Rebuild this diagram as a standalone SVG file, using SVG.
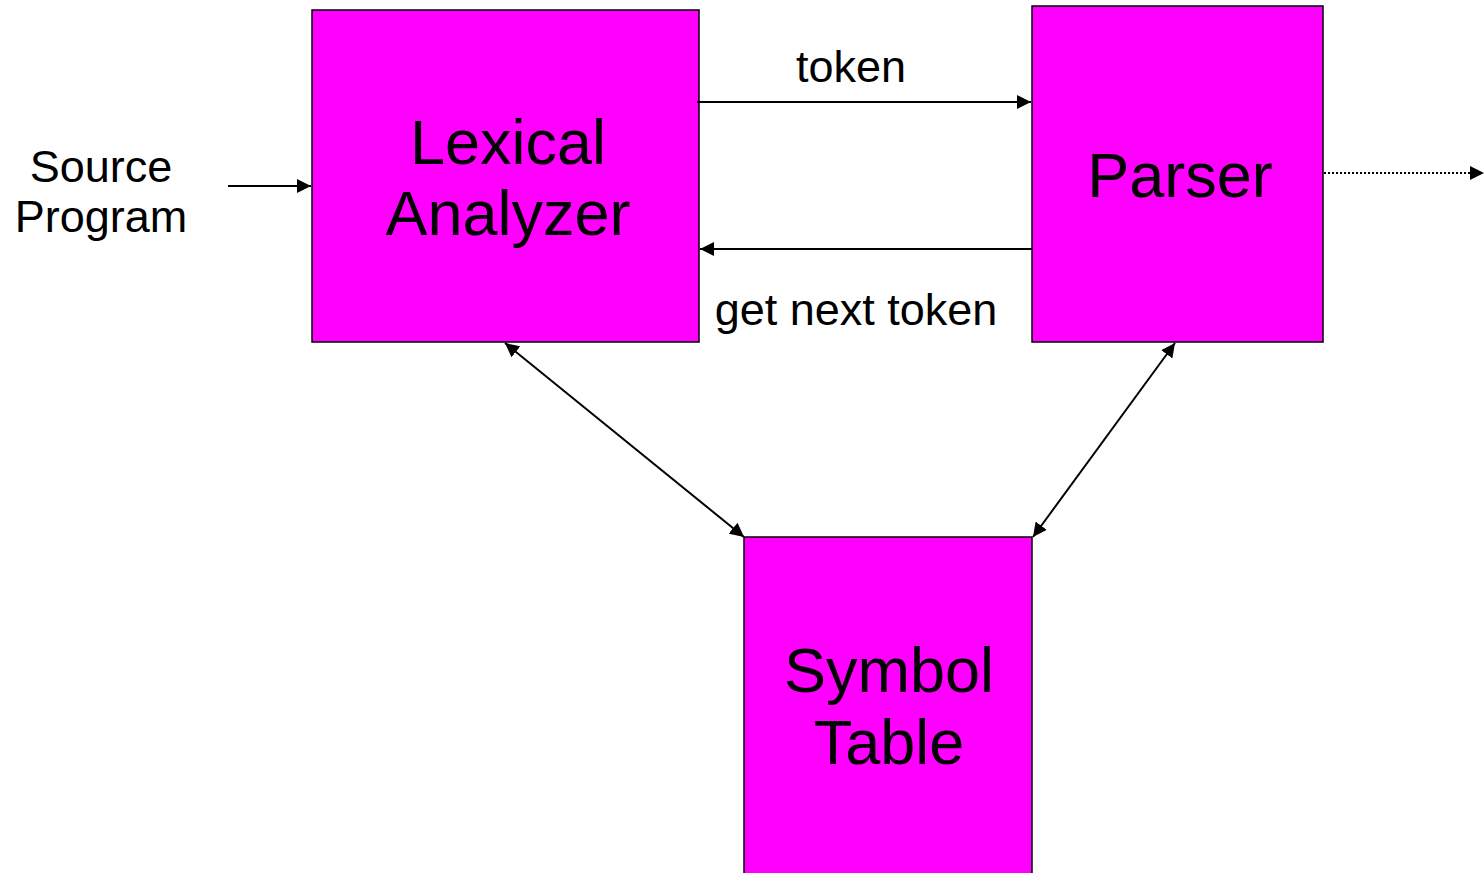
<svg xmlns="http://www.w3.org/2000/svg" width="1484" height="873" viewBox="0 0 1484 873">
  <style>
    .box { fill: #ff00ff; stroke: #000000; stroke-width: 1.5; }
    .big { font-family: "Liberation Sans", Arial, sans-serif; font-size: 63px; fill: #000; text-anchor: middle; }
    .small { font-family: "Liberation Sans", Arial, sans-serif; font-size: 45px; fill: #000; text-anchor: middle; }
    .wire { stroke: #000; stroke-width: 2; fill: none; }
  </style>
  <defs>
    <marker id="arrow" viewBox="0 0 10 10" refX="10" refY="5" markerWidth="7" markerHeight="7" markerUnits="strokeWidth" orient="auto-start-reverse">
      <path d="M0,0 L10,5 L0,10 z" fill="#000"/>
    </marker>
  </defs>
  <rect width="1484" height="873" fill="#ffffff"/>

  <g id="lexical-analyzer">
    <rect class="box" x="312" y="10" width="387" height="332"/>
    <text class="big" x="508" y="164">Lexical</text>
    <text class="big" x="508" y="235">Analyzer</text>
  </g>

  <g id="parser">
    <rect class="box" x="1032" y="6" width="291" height="336"/>
    <text class="big" x="1180" y="197">Parser</text>
  </g>

  <g id="symbol-table">
    <rect class="box" x="744" y="537" width="288" height="340"/>
    <text class="big" x="889" y="692">Symbol</text>
    <text class="big" x="889" y="764">Table</text>
  </g>

  <g id="labels">
    <text class="small" x="101" y="182">Source</text>
    <text class="small" x="101" y="232">Program</text>
    <text class="small" x="851" y="82">token</text>
    <text class="small" x="856" y="325">get next token</text>
  </g>

  <g id="connectors">
    <line class="wire" x1="228" y1="186" x2="311" y2="186" marker-end="url(#arrow)"/>
    <line class="wire" x1="697" y1="102" x2="1031" y2="102" marker-end="url(#arrow)"/>
    <line class="wire" x1="1032" y1="249" x2="700" y2="249" marker-end="url(#arrow)"/>
    <line class="wire" x1="1324" y1="173" x2="1484" y2="173" stroke-dasharray="2,2" marker-end="url(#arrow)"/>
    <line class="wire" x1="505" y1="343" x2="744" y2="537" marker-start="url(#arrow)" marker-end="url(#arrow)"/>
    <line class="wire" x1="1175" y1="343" x2="1033" y2="537" marker-start="url(#arrow)" marker-end="url(#arrow)"/>
  </g>
</svg>
